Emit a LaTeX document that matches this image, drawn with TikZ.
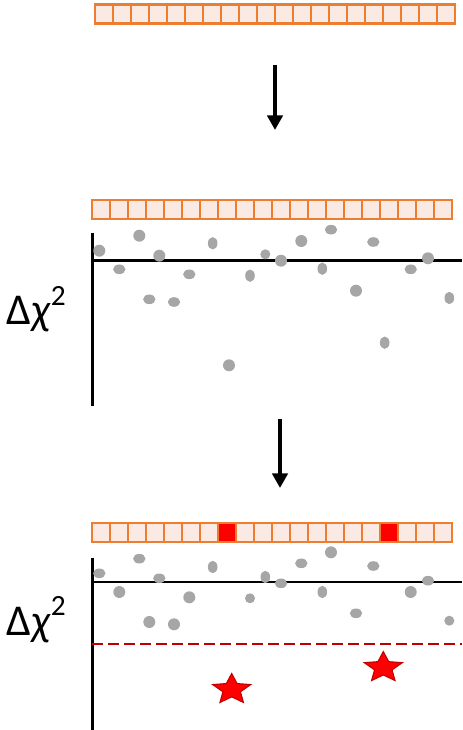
\documentclass[tikz,border=0pt]{standalone}
\usepackage{fontspec}
\setmainfont{Carlito}
\usetikzlibrary{arrows.meta}
\definecolor{barfill}{HTML}{FBE9E3}
\definecolor{barline}{HTML}{ED7D31}
\definecolor{dotgray}{HTML}{A6A6A6}
\definecolor{hitred}{HTML}{FF0000}
\definecolor{darkred}{HTML}{C00000}
\tikzset{
  cell/.style={draw=barline, fill=barfill, line width=1.7pt, minimum width=18*0.75pt, minimum height=19*0.75pt, inner sep=0pt, outer sep=0pt},
  hitcell/.style={cell, fill=hitred},
  axisline/.style={line width=1.8pt, black},
  flowarrow/.style={line width=3.2pt, -{Triangle[length=11pt, width=11.5pt]}},
  dotfill/.style={fill=dotgray},
  threshold/.style={darkred, line width=1.7pt, dash pattern=on 8pt off 4pt},
  starfill/.style={fill=hitred, draw=darkred, line width=0.8pt, line join=miter},
  lab/.style={font=\fontsize{33}{36}\selectfont, anchor=base west, inner sep=0pt}
}
\newcommand{\mystar}[4]{% cx, cy, rx, ry
  \begin{scope}[shift={(#1,#2)}, xscale=#3/#4]
    \draw[starfill] (-90:#4) -- (-54:#4*0.46) -- (-18:#4) -- (18:#4*0.46) -- (54:#4) -- (90:#4*0.46) -- (126:#4) -- (162:#4*0.46) -- (198:#4) -- (234:#4*0.46) -- cycle;
  \end{scope}}
\begin{document}
\begin{tikzpicture}[x=0.75pt, y=-0.75pt]
\useasboundingbox (0,0) rectangle (462,730);
% --- bar 1
\foreach \i in {0,...,19} {
  \node[cell] (a\i) at ({95.3+18*\i+9}, 14) {};
}
% --- arrow 1
\coordinate (ar1s) at (275,65);
\coordinate (ar1e) at (275,130);
\draw[flowarrow] (ar1s) -- (ar1e);
% --- bar 2
\foreach \i in {0,...,19} {
  \node[cell] (b\i) at ({92.3+18*\i+9}, 209.5) {};
}
% --- axes 1
\coordinate (o1) at (92.3,260.7);
\coordinate (t1) at (92.3,233);
\coordinate (d1) at (92.3,406);
\coordinate (r1) at (462,260.7);
\draw[axisline] (t1) -- (d1);
\draw[axisline] (o1) -- (r1);
\node[lab] (lab1) at (6,325) {Δ\textit{χ}\raisebox{0.45em}{\fontsize{22}{24}\selectfont 2}};
% dots 1: x, y, rx, ry
\foreach \x/\y/\rx/\ry in {
  99.3/250.7/6/6, 119.3/269.3/6.2/4.8, 139.3/235.7/6/6, 159.3/255.7/6/6,
  149.3/299.3/6.2/4.8, 174/302/6.2/4.8, 189.3/274.3/6.2/4.8, 212.7/243.3/4.8/6.2,
  229/365.3/6/6, 250/275.7/4.8/6.2, 265.3/254.3/5/5, 281/260.7/6/6,
  301.3/241/6/6, 322.3/268.7/4.8/6.2, 331/229.7/6.2/4.8, 356/290.7/6/6,
  373.3/242/6.2/4.8, 384.7/342.7/4.8/6.2, 410.7/269.3/6.2/4.8, 428/258.3/6/6,
  449.3/298/4.8/6.2} {
  \fill[dotfill] (\x,\y) ellipse [x radius=\rx, y radius=\ry];
}
% --- arrow 2
\coordinate (ar2s) at (280,419);
\coordinate (ar2e) at (280,488);
\draw[flowarrow] (ar2s) -- (ar2e);
% --- bar 3
\foreach \i in {0,...,19} {
  \ifnum\i=7
    \node[hitcell] (c\i) at ({92.3+18*\i+9}, 532.5) {};
  \else\ifnum\i=16
    \node[hitcell] (c\i) at ({92.3+18*\i+9}, 532.5) {};
  \else
    \node[cell] (c\i) at ({92.3+18*\i+9}, 532.5) {};
  \fi\fi
}
% --- axes 2
\coordinate (o2) at (92.3,581.7);
\coordinate (t2) at (92.3,557.7);
\coordinate (d2) at (92.3,730);
\coordinate (r2) at (462,581.7);
\coordinate (th1) at (92.3,644.3);
\coordinate (th2) at (462,644.3);
\draw[axisline] (t2) -- (d2);
\draw[axisline] (o2) -- (r2);
\draw[threshold] (th1) -- (th2);
\node[lab] (lab2) at (6,635) {Δ\textit{χ}\raisebox{0.45em}{\fontsize{22}{24}\selectfont 2}};
\foreach \x/\y/\rx/\ry in {
  99.3/573.3/6.2/4.8, 119.3/592/6/6, 139.3/558.7/6.2/4.8, 159.3/578.3/6.2/4.8,
  149.3/622/6/6, 174/624.3/6/6, 189.3/597.3/6/6, 212.7/567/4.8/6.2,
  250/598.3/5/5, 265.3/577/4.8/6.2, 281/583.3/6.2/4.8, 301.3/563.3/6.2/4.8,
  322.3/592/4.8/6.2, 331/552.3/6/6, 356/613.3/6.2/4.8, 373.3/566/6.2/4.8,
  410.7/592/6/6, 428/580.7/6.2/4.8, 449.3/620.7/5/5} {
  \fill[dotfill] (\x,\y) ellipse [x radius=\rx, y radius=\ry];
}
% stars
\mystar{231.7}{689.5}{20}{16}
\mystar{383.3}{667.6}{20}{16}
\end{tikzpicture}
\end{document}
